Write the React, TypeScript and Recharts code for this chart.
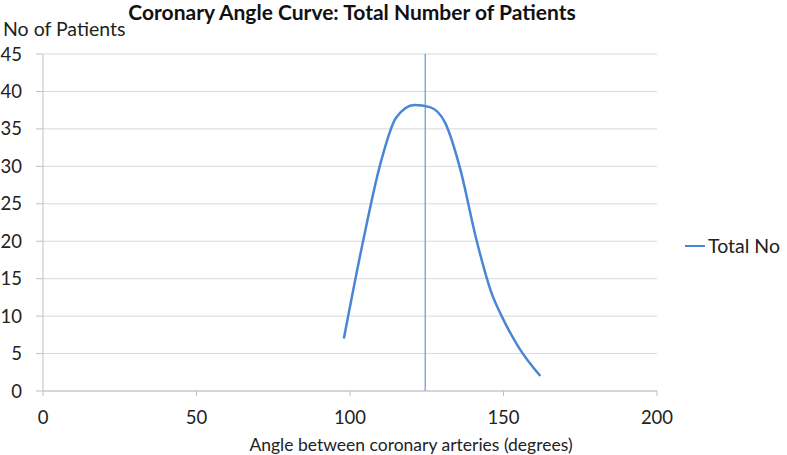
import { CartesianGrid, Line, LineChart, ReferenceLine, XAxis, YAxis } from "recharts";

const angles = [98, 104, 110, 115, 121, 126, 131, 136, 141, 146, 150, 155, 162];
const totalNo = [7, 19.5, 30.5, 36.5, 38.2, 37.9, 35.8, 29.5, 20.5, 13.2, 9.5, 5.8, 2];
const xTicks = [0, 50, 100, 150, 200];
const yTicks = [0, 5, 10, 15, 20, 25, 30, 35, 40, 45];
const meanAngle = 124.5;

const data = angles.map((angle, i) => ({ angle, total: totalNo[i] }));

const font = "Lato, 'Open Sans', sans-serif";
const lineBlue = "#4A86D4";

export default function App() {
  return (
    <div style={{ position: "absolute", left: 0, top: 0, width: 787, height: 455, background: "#fff", fontFamily: font }}>
      <div style={{ position: "absolute", left: 0, width: 704, top: 1, textAlign: "center", fontWeight: 700, fontSize: 21, color: "#111", lineHeight: "22px" }}>
        Coronary Angle Curve: Total Number of Patients
      </div>
      <div style={{ position: "absolute", left: 3, top: 17, fontSize: 19.5, color: "#222", lineHeight: "24px" }}>No of Patients</div>
      <div style={{ position: "absolute", left: 43, width: 736, top: 434, textAlign: "center", fontSize: 17.5, color: "#222", lineHeight: "22px" }}>
        Angle between coronary arteries (degrees)
      </div>
      <div style={{ position: "absolute", left: 685, top: 234, display: "flex", alignItems: "center", fontSize: 19.5, color: "#222", lineHeight: "24px" }}>
        <span style={{ display: "inline-block", width: 20, height: 2, background: lineBlue, marginRight: 3 }} />
        Total No
      </div>
      <LineChart width={787} height={455} data={data} margin={{ top: 54, right: 130, left: 13, bottom: 14 }}>
        <CartesianGrid stroke="#D9D9D9" vertical={false} />
        <XAxis
          type="number"
          dataKey="angle"
          domain={[0, 200]}
          ticks={xTicks}
          stroke="#BFBFBF"
          tickSize={5}
          tickMargin={15}
          height={50}
          tick={{ fill: "#222", fontSize: 18.5, fontFamily: font }}
        />
        <YAxis
          type="number"
          domain={[0, 45]}
          ticks={yTicks}
          stroke="#BFBFBF"
          tickSize={7}
          tickMargin={14}
          width={30}
          tick={{ fill: "#222", fontSize: 18.5, fontFamily: font }}
        />
        <ReferenceLine x={meanAngle} stroke="#5B9BD5" strokeWidth={1.2} />
        <Line
          type="monotone"
          dataKey="total"
          name="Total No"
          stroke={lineBlue}
          strokeWidth={2.5}
          dot={false}
          isAnimationActive={false}
        />
      </LineChart>
    </div>
  );
}
